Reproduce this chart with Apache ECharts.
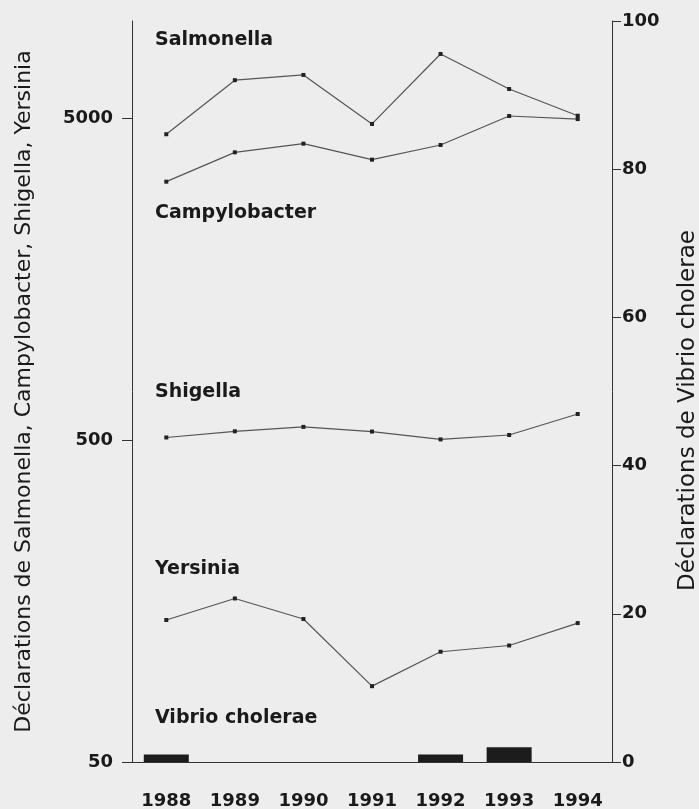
<!DOCTYPE html>
<html>
<head>
<meta charset="utf-8">
<script src="https://cdn.jsdelivr.net/npm/echarts@6/dist/echarts.min.js"></script>
<style>
  html, body { margin: 0; padding: 0; background: #ededed; }
  #main { width: 699px; height: 809px; }
</style>
</head>
<body>
<div id="main"></div>
<script>
// années
var years = ['1988', '1989', '1990', '1991', '1992', '1993', '1994'];
// déclarations (échelle log, axe de gauche)
var salmonella = [4450, 6550, 6800, 4790, 7900, 6150, 5080];
var campylobacter = [3170, 3910, 4160, 3710, 4120, 5070, 4960];
var shigella = [509, 532, 549, 531, 502, 518, 602];
var yersinia = [138, 161, 139, 86, 110, 115, 135];
// déclarations de Vibrio cholerae (axe de droite)
var vibrio = [1, 0, 0, 0, 1, 2, 0];
// graduations
var leftTicks = [50, 500, 5000];

var textColor = '#1a1a1a';
var lineColor = '#555';
var boldFont = 'DejaVu Sans';

var chart = echarts.init(document.getElementById('main'), null, { renderer: 'canvas' });

function lineSeries(name, data) {
  return {
    name: name,
    type: 'line',
    yAxisIndex: 0,
    data: data,
    symbol: 'rect',
    symbolSize: 4,
    itemStyle: { color: '#222' },
    lineStyle: { color: lineColor, width: 1.2 },
    z: 3
  };
}

function seriesLabel(text, y) {
  return {
    type: 'text',
    left: 155,
    top: y,
    style: {
      text: text,
      font: 'bold 19px "' + boldFont + '"',
      fill: textColor
    }
  };
}

var option = {
  backgroundColor: '#ededed',
  animation: false,
  grid: { left: 132, right: 87, top: 21, bottom: 47, containLabel: false, outerBoundsMode: 'none' },
  xAxis: {
    type: 'category',
    data: years,
    boundaryGap: true,
    axisLine: { lineStyle: { color: '#333', width: 1 } },
    axisTick: { alignWithLabel: true, length: 13, lineStyle: { color: '#333' } },
    axisLabel: {
      margin: 30,
      color: textColor,
      fontFamily: boldFont,
      fontWeight: 'bold',
      fontSize: 18
    },
    splitLine: { show: false }
  },
  yAxis: [{
    type: 'log',
    logBase: 10,
    min: 50,
    max: 10000,
    position: 'left',
    name: 'Déclarations de Salmonella, Campylobacter, Shigella, Yersinia',
    nameLocation: 'middle',
    nameGap: 97,
    nameTextStyle: { color: textColor, fontFamily: 'DejaVu Sans', fontSize: 22 },
    axisLine: { show: true, lineStyle: { color: '#333', width: 1 } },
    axisTick: { show: true, length: 10, customValues: leftTicks, lineStyle: { color: '#333' } },
    axisLabel: {
      customValues: leftTicks,
      margin: 19,
      color: textColor,
      fontFamily: boldFont,
      fontWeight: 'bold',
      fontSize: 18,
      formatter: function (v) { return String(Math.round(v)); }
    },
    splitLine: { show: false },
    minorTick: { show: false }
  }, {
    type: 'value',
    min: 0,
    max: 100,
    interval: 20,
    position: 'right',
    name: 'Déclarations de Vibrio cholerae',
    nameLocation: 'middle',
    nameGap: 65,
    nameTextStyle: { color: textColor, fontFamily: 'DejaVu Sans', fontSize: 23, padding: [0, 38, 0, 0] },
    axisLine: { show: true, lineStyle: { color: '#333', width: 1 } },
    axisTick: { show: true, length: 9, lineStyle: { color: '#333' } },
    axisLabel: {
      margin: 10,
      color: textColor,
      fontFamily: boldFont,
      fontWeight: 'bold',
      fontSize: 18
    },
    splitLine: { show: false }
  }],
  series: [
    lineSeries('Salmonella', salmonella),
    lineSeries('Campylobacter', campylobacter),
    lineSeries('Shigella', shigella),
    lineSeries('Yersinia', yersinia),
    {
      name: 'Vibrio cholerae',
      type: 'bar',
      yAxisIndex: 1,
      data: vibrio,
      barWidth: 45,
      itemStyle: { color: '#1c1c1c' },
      z: 2
    }
  ],
  graphic: [
    seriesLabel('Salmonella', 31),
    seriesLabel('Campylobacter', 204),
    seriesLabel('Shigella', 383),
    seriesLabel('Yersinia', 560),
    seriesLabel('Vibrio cholerae', 709)
  ]
};

chart.setOption(option);
</script>
</body>
</html>
